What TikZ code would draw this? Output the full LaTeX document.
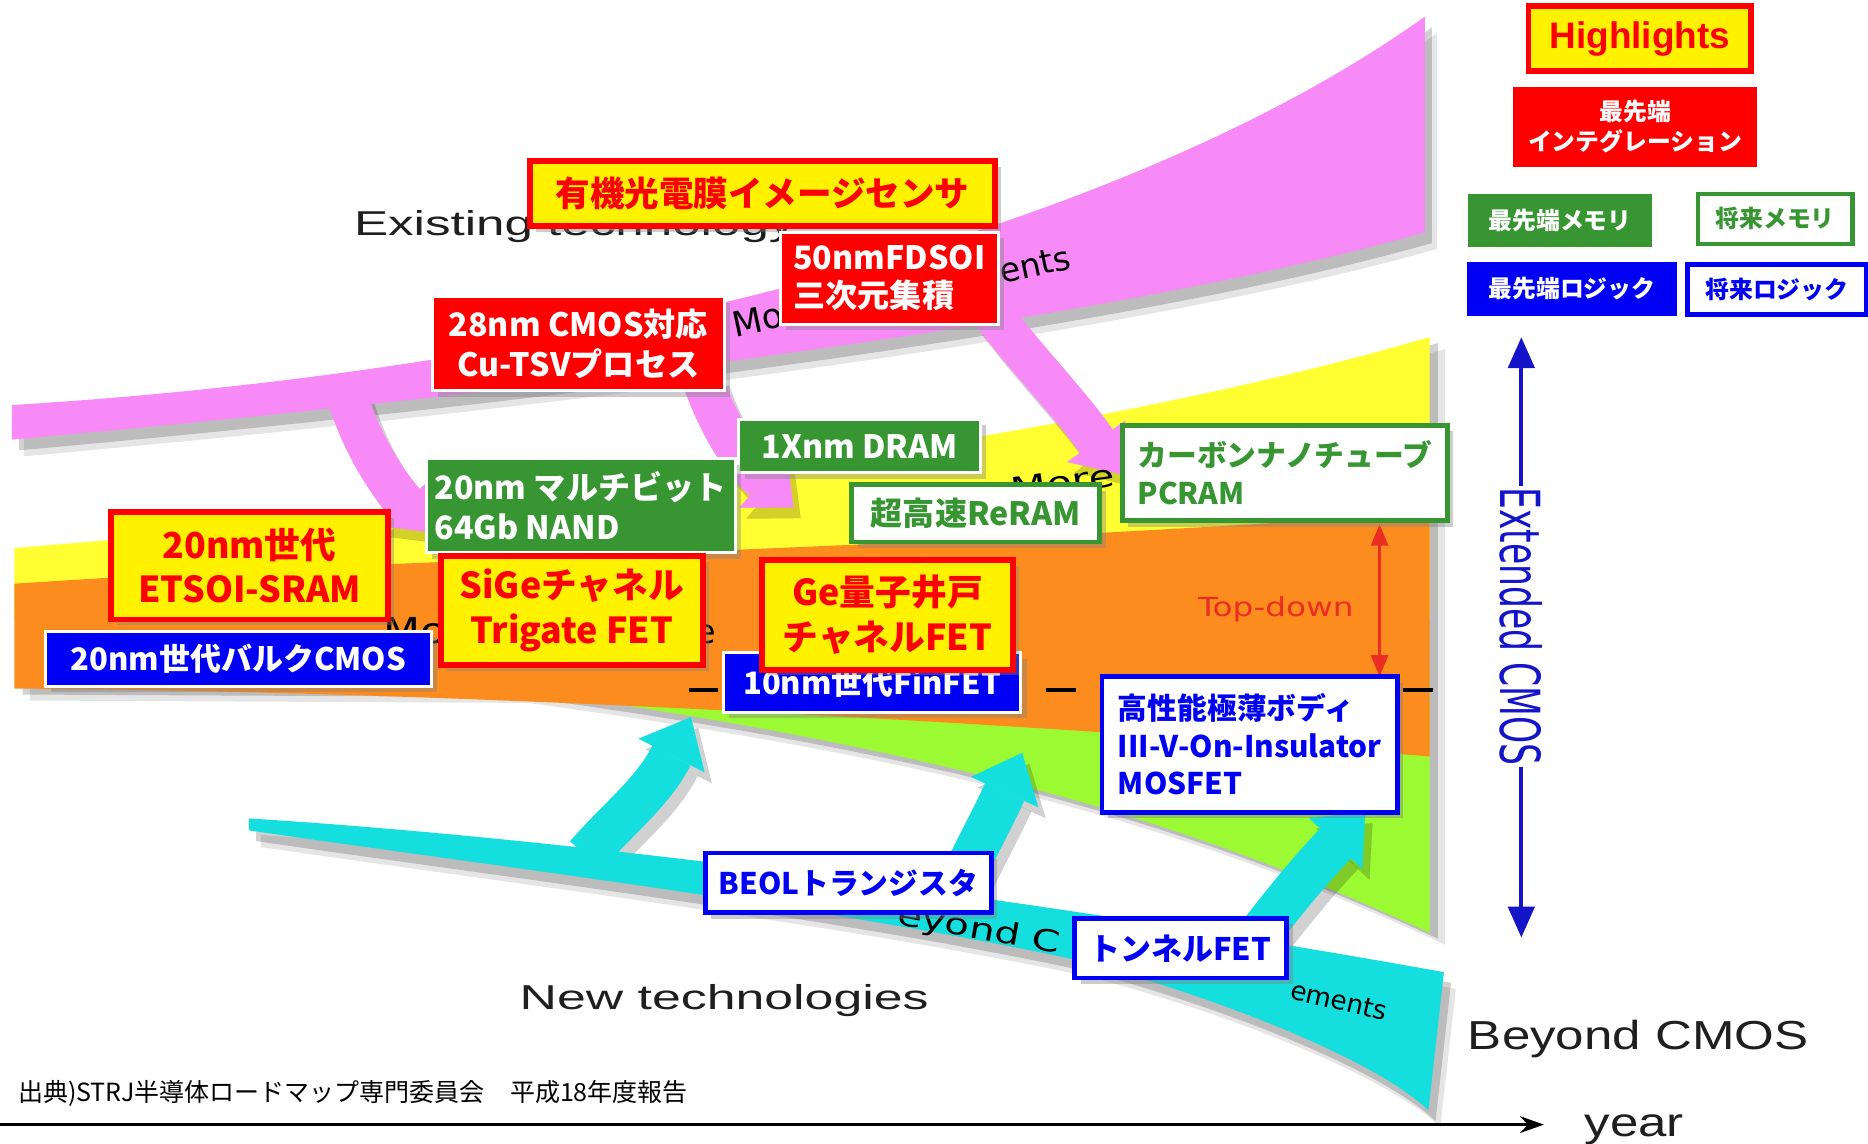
\documentclass[tikz,border=0pt]{standalone}
\usepackage{fontspec}
\setmainfont{Liberation Sans}
\newfontfamily\jp{Noto Sans CJK JP}
\newfontfamily\dv{DejaVu Sans}
\usetikzlibrary{arrows.meta,shadows}
\definecolor{pk}{RGB}{247,138,247}
\definecolor{yb}{RGB}{255,255,50}
\definecolor{ob}{RGB}{253,140,30}
\definecolor{gb}{RGB}{155,250,50}
\definecolor{cb}{RGB}{20,222,222}
\definecolor{bgreen}{RGB}{55,150,50}
\definecolor{bblue}{RGB}{0,0,245}
\definecolor{bred}{RGB}{255,0,0}
\definecolor{eb}{RGB}{20,20,200}
\definecolor{tdred}{RGB}{235,45,35}
\newcommand\jfont[2]{\jp\bfseries\fontsize{#1}{#2}\selectfont}
\newcommand\lfont[1]{\fontsize{#1}{#1}\selectfont}
\newcommand\pkband{(10,340) .. controls (500,310) and (950,190) .. (1196,14) -- (1196,195) .. controls (950,265) and (500,325) .. (10,369) -- cycle}
\newcommand\pkA{(292,335) .. controls (305,375) and (325,405) .. (362,447)}
\newcommand\pkB{(590,320) .. controls (605,362) and (625,390) .. (666,426)}
\newcommand\pkC{(832,262) .. controls (862,302) and (895,335) .. (940,398)}
\newcommand\cyband{(209,687) .. controls (500,705) and (900,760) .. (1212,816) -- (1199,932) .. controls (1150,885) and (1000,830) .. (900,805) .. controls (700,762) and (400,725) .. (209,697) -- cycle}
\newcommand\cyA{(492,718) .. controls (518,688) and (548,665) .. (580,602)}
\newcommand\cyB{(795,765) .. controls (812,725) and (832,690) .. (858,632)}
\newcommand\cyC{(1045,800) .. controls (1075,760) and (1100,730) .. (1146,682)}
\tikzset{
  bx/.style={inner sep=0pt, align=center, drop shadow={shadow xshift=5pt,shadow yshift=-5pt,opacity=.4}},
  yr/.style={bx, fill=yellow, draw=bred, line width=5pt, text=bred},
  rf/.style={bx, fill=bred, draw=white, line width=2.5pt, text=white},
  gf/.style={bx, fill=bgreen, draw=white, line width=2.5pt, text=white},
  go/.style={bx, fill=white, draw=bgreen, line width=4pt, text=bgreen},
  bf/.style={bx, fill=bblue, draw=white, line width=2.5pt, text=white},
  bo/.style={bx, fill=white, draw=bblue, line width=4pt, text=bblue},
  lgd/.style={inner sep=0pt, align=center, font=\jfont{20}{25}},
  bandshadow/.style={fill=black, opacity=.18},
  softshadow/.style={fill=black, opacity=.10},
  pkarr/.style={draw=pk, line width=34pt, -{Triangle[length=34pt,width=60pt,line width=0.1pt]}},
  cyarr/.style={draw=cb, line width=36pt, -{Triangle[length=36pt,width=62pt,line width=0.1pt]}},
  shdpk/.style={draw=black, opacity=.18, line width=34pt, -{Triangle[length=34pt,width=60pt,line width=0.1pt]}},
  shdcy/.style={draw=black, opacity=.18, line width=36pt, -{Triangle[length=36pt,width=62pt,line width=0.1pt]}},
  comic/.style={inner sep=0pt, anchor=base west, text=black},
  bglabel/.style={inner sep=0pt, anchor=base west, text=black!88},
}
\begin{document}
\begin{tikzpicture}[x=1pt,y=-1pt]
\useasboundingbox (0,0) rectangle (1568,960);
% ---- bands: yellow / orange / green
\fill[softshadow, shift={(13,10)}] (12,460) .. controls (500,420) and (900,370) .. (1200,283) -- (1200,783) .. controls (1000,690) and (800,630) .. (430,580) -- (12,578) -- cycle;
\fill[bandshadow, shift={(7,5)}] (12,460) .. controls (500,420) and (900,370) .. (1200,283) -- (1200,783) .. controls (1000,690) and (800,630) .. (430,580) -- (12,578) -- cycle;
\fill[yb] (12,460) .. controls (500,420) and (900,370) .. (1200,283) -- (1200,520) -- (12,520) -- cycle;
\fill[gb] (430,578) -- (1200,560) -- (1200,783) .. controls (1000,690) and (800,630) .. (430,578) -- cycle;
\fill[ob] (12,490) .. controls (300,470) and (800,460) .. (1200,430) -- (1200,635) .. controls (900,610) and (400,580) .. (12,578) -- cycle;
% ---- pink band and arrows
\begin{scope}[shift={(10,14)}]
  \fill[softshadow] \pkband;
\end{scope}
\begin{scope}[shift={(6,9)}]
  \fill[bandshadow] \pkband;
  \draw[shdpk] \pkA; \draw[shdpk] \pkB; \draw[shdpk] \pkC;
\end{scope}
\fill[pk] \pkband;
\draw[pkarr] \pkA; \draw[pkarr] \pkB; \draw[pkarr] \pkC;
% ---- cyan band and arrows
\begin{scope}[shift={(10,14)}]
  \fill[softshadow] \cyband;
\end{scope}
\begin{scope}[shift={(6,9)}]
  \fill[bandshadow] \cyband;
  \draw[shdcy] \cyA; \draw[shdcy] \cyB; \draw[shdcy] \cyC;
\end{scope}
\fill[cb] \cyband;
\draw[cyarr] \cyA; \draw[cyarr] \cyB; \draw[cyarr] \cyC;
% ---- band labels
\node[bglabel, font=\lfont{29}] (exist) at (297,198) {\scalebox{1.48}[1]{Existing technology}};
\node[bglabel, font=\lfont{29}] (newt) at (436,847) {\scalebox{1.5}[1]{New technologies}};
\node[comic, rotate=12, font=\dv\lfont{29}] (pkt1) at (617,283) {Mo};
\node[comic, rotate=12, font=\dv\lfont{28}] (pkt2) at (841,238) {ents};
\node[comic, font=\dv\lfont{30}] (ort1) at (322,540) {\scalebox{1.2}[1]{Mo}};
\node[comic, font=\dv\lfont{28}] (ort2) at (584,540) {e};
\node[comic, rotate=8, font=\dv\lfont{26}] (ylt) at (850,420) {\scalebox{1.35}[1]{More}};
\node[comic, rotate=-10, font=\dv\lfont{25}] (cyt1) at (752,776) {\scalebox{1.35}[1]{eyond C}};
\node[comic, rotate=-13, font=\dv\lfont{22}] (cyt2) at (1082,838) {ements};
% ---- dashed line and top-down arrow
\coordinate (d0) at (578,579); \coordinate (d1) at (1203,579);
\draw[line width=3pt, dash pattern=on 25pt off 25pt] (d0) -- (d1);
\coordinate (tdT) at (1158,440); \coordinate (tdB) at (1158,568);
\draw[tdred, line width=3pt, {Triangle[length=18pt,width=14pt]}-{Triangle[length=18pt,width=14pt]}] (tdT) -- (tdB);
\node[inner sep=0pt, text=tdred, font=\dv\lfont{22}] (td) at (1071,511) {\scalebox{1.25}[1]{Top-down}};
% ---- boxes
\node[yr, minimum width=390, minimum height=55, font=\jfont{29}{34}] (yuki) at (640,162.5) {有機光電膜イメージセンサ};
\node[rf, minimum width=183, minimum height=77, align=left, font=\jfont{27}{32}] (fdsoi) at (746.5,233.5) {50nmFDSOI\\三次元集積};
\node[rf, minimum width=245, minimum height=79, font=\jfont{27}{33}] (tsv) at (485.5,288.5) {28nm CMOS対応\\Cu-TSVプロセス};
\node[gf, minimum width=203, minimum height=45, font=\jfont{27}{32}] (dram) at (721.5,374.5) {1Xnm DRAM};
\node[gf, minimum width=259, minimum height=79, align=left, font=\jfont{27}{33}] (nand) at (487.5,424.5) {20nm マルチビット\\64Gb NAND};
\node[go, minimum width=208, minimum height=48, font=\jfont{27}{32}] (reram) at (819,431) {超高速ReRAM};
\node[go, minimum width=273, minimum height=80, align=left, font=\jfont{25}{32}] (pcram) at (1078.5,397) {カーボンナノチューブ\\PCRAM};
\node[yr, minimum width=233, minimum height=90, font=\jfont{30}{37}] (etsoi) at (209.5,475) {20nm世代\\ETSOI-SRAM};
\node[bf, minimum width=324, minimum height=46, font=\jfont{26}{32}] (bulk) at (200,553) {20nm世代バルクCMOS};
\node[yr, minimum width=220, minimum height=91, font=\jfont{30}{38}] (sige) at (480,512.5) {SiGeチャネル\\Trigate FET};
\node[bf, minimum width=250, minimum height=50, font=\jfont{26}{32}] (finfet) at (732,573) {10nm世代FinFET};
\node[yr, minimum width=210, minimum height=92, font=\jfont{30}{38}] (ge) at (745,516) {Ge量子井戸\\チャネルFET};
\node[bo, minimum width=248, minimum height=114, align=left, font=\jfont{25}{31.5}] (hp) at (1049,625) {高性能極薄ボディ\\III-V-On-Insulator\\MOSFET};
\node[bo, minimum width=240, minimum height=50, font=\jfont{25}{32}] (beol) at (712,741) {BEOLトランジスタ};
\node[bo, minimum width=178, minimum height=50, font=\jfont{26}{32}] (tfet) at (991,796) {トンネルFET};
% ---- legend
\node[fill=yellow, draw=bred, line width=5pt, minimum width=187, minimum height=55, inner sep=0pt, text=bred, font=\bfseries\lfont{31}] (hl) at (1376.5,32.5) {Highlights};
\node[lgd, fill=bred, minimum width=205, minimum height=67, text=white] (integ) at (1372.5,106.5) {最先端\\インテグレーション};
\node[lgd, fill=bgreen, minimum width=155, minimum height=44, text=white] (memA) at (1309.5,185) {最先端メモリ};
\node[lgd, fill=white, draw=bgreen, line width=3.5pt, minimum width=130, minimum height=42, text=bgreen] (memF) at (1490,183.5) {将来メモリ};
\node[lgd, fill=bblue, minimum width=177, minimum height=45, text=white] (logA) at (1319.5,242.5) {最先端ロジック};
\node[lgd, fill=white, draw=bblue, line width=3.5pt, minimum width=150, minimum height=42, text=bblue] (logF) at (1491.5,243) {将来ロジック};
% ---- extended CMOS axis
\coordinate (eT) at (1277,283); \coordinate (eB) at (1277,787);
\draw[eb, line width=3.5pt, {Triangle[length=26pt,width=22pt]}-{Triangle[length=26pt,width=22pt]}] (eT) -- (eB);
\node[rotate=-90, fill=white, inner sep=1pt, text=eb, font=\dv\lfont{29}] (ext) at (1277,526) {\scalebox{1}[1.6]{Extended CMOS}};
\node[bglabel, font=\lfont{34}] (bcm) at (1232,881) {\scalebox{1.26}[1]{Beyond CMOS}};
% ---- year axis
\coordinate (ax0) at (0,944); \coordinate (ax1) at (1296,944);
\draw[line width=2.5pt, -{Stealth[length=20pt,width=14pt]}] (ax0) -- (ax1);
\node[bglabel, font=\lfont{34}] (yr) at (1330,954) {\scalebox{1.26}[1]{year}};
\node[anchor=west, inner sep=0pt, font=\jp\lfont{21}] (src) at (15,918) {出典)STRJ半導体ロードマップ専門委員会　平成18年度報告};
\end{tikzpicture}
\end{document}
